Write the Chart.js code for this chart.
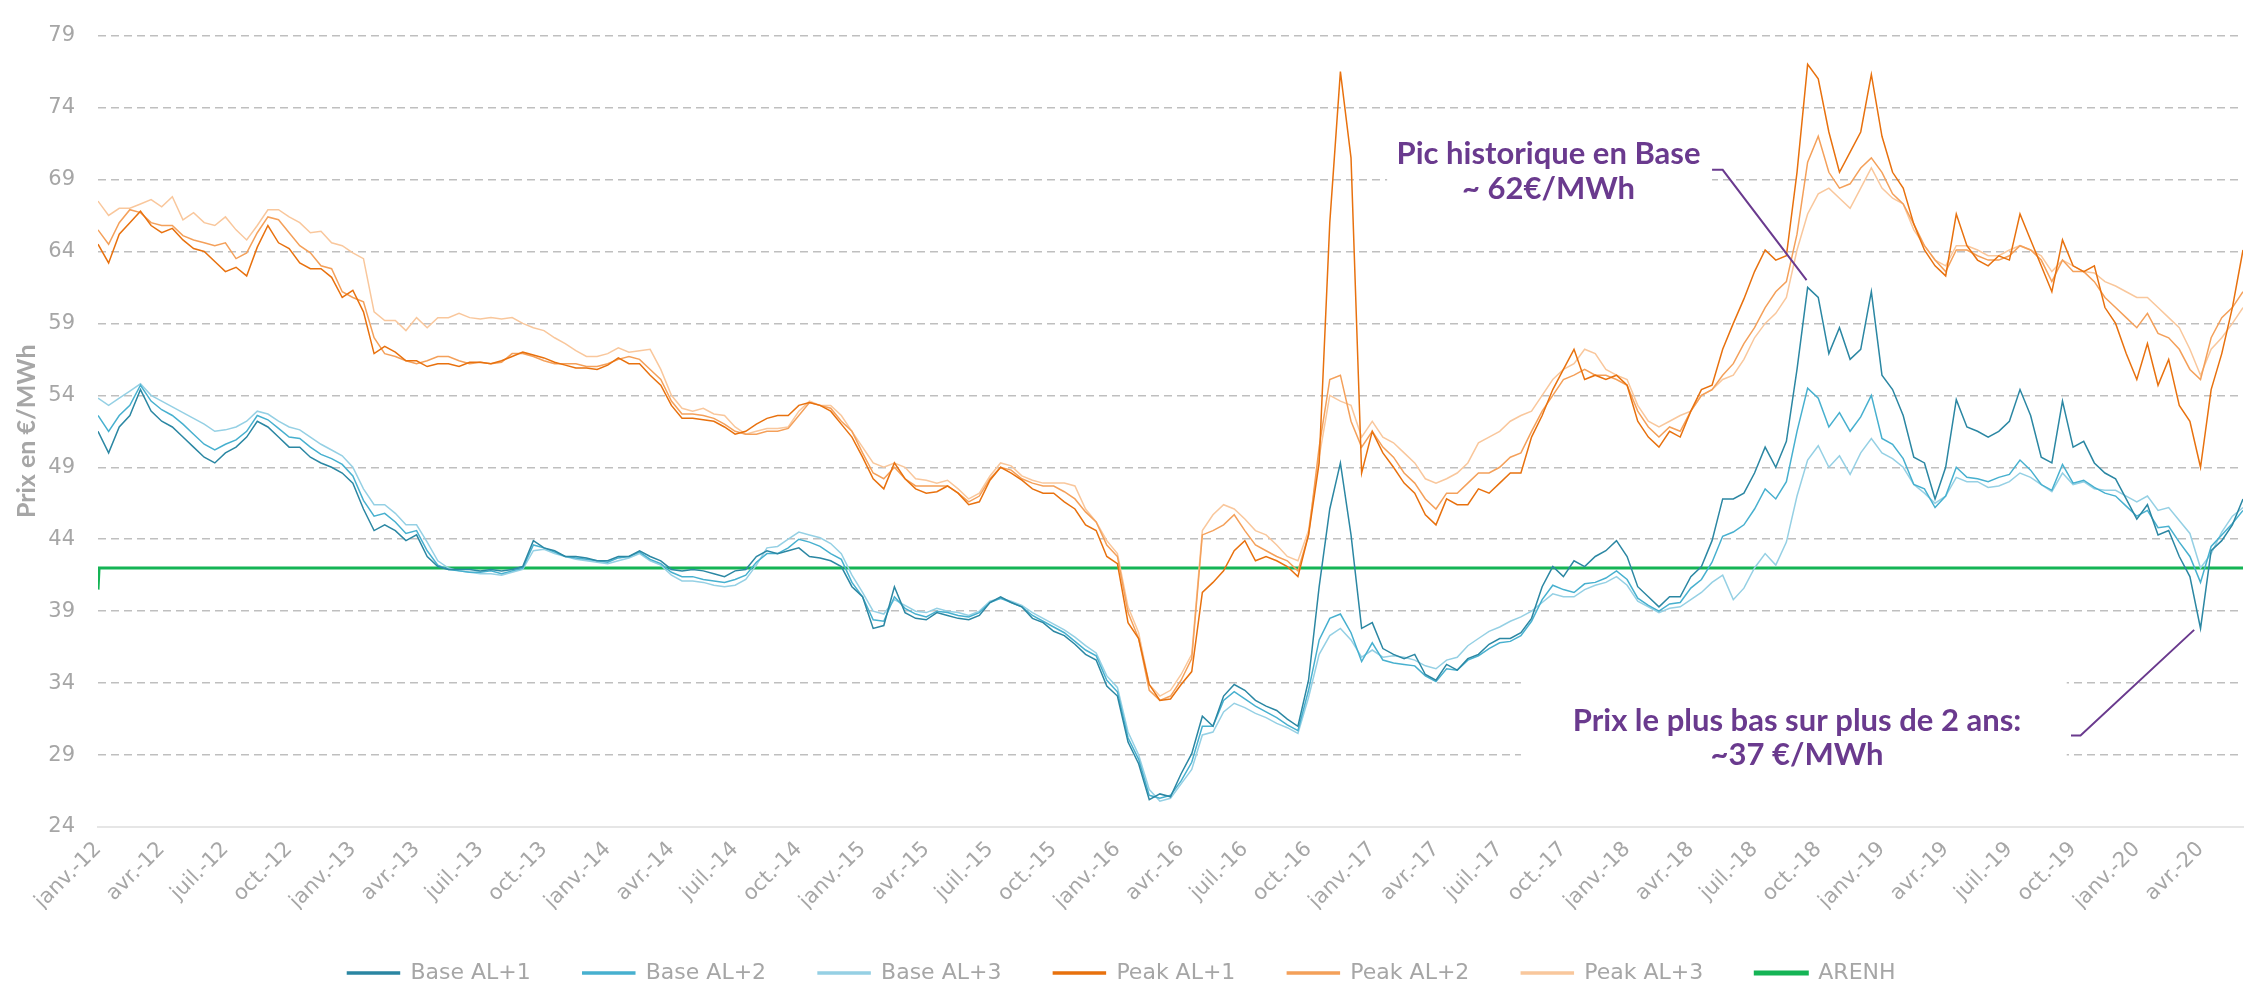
<!DOCTYPE html>
<html lang="fr">

<head>
    <meta charset="UTF-8">
    <title>Prix Base / Peak et ARENH</title>
    <style>
        html,
        body {
            margin: 0;
            padding: 0;
            background: #ffffff;
        }

        canvas {
            display: block;
        }
    </style>
</head>

<body>

    <canvas id="myChart" width="2257" height="994"></canvas>

    <script src="https://cdn.jsdelivr.net/npm/chart.js"></script>

    <script>
        // un point tous les demi-mois, à partir de janv. 2012
        const tickLabels = [
            'janv.-12', 'avr.-12', 'juil.-12', 'oct.-12',
            'janv.-13', 'avr.-13', 'juil.-13', 'oct.-13',
            'janv.-14', 'avr.-14', 'juil.-14', 'oct.-14',
            'janv.-15', 'avr.-15', 'juil.-15', 'oct.-15',
            'janv.-16', 'avr.-16', 'juil.-16', 'oct.-16',
            'janv.-17', 'avr.-17', 'juil.-17', 'oct.-17',
            'janv.-18', 'avr.-18', 'juil.-18', 'oct.-18',
            'janv.-19', 'avr.-19', 'juil.-19', 'oct.-19',
            'janv.-20', 'avr.-20'
        ];

        const baseAL1 = [
            51.5, 50.0, 51.8, 52.6, 54.4, 52.9, 52.2, 51.8, 51.1, 50.4,
            49.7, 49.3, 50.0, 50.4, 51.1, 52.2, 51.8, 51.1, 50.4, 50.4,
            49.7, 49.3, 49.0, 48.6, 47.9, 46.1, 44.6, 45.0, 44.6, 43.9,
            44.3, 42.8, 42.1, 41.9, 41.9, 41.9, 41.8, 41.9, 41.8, 41.9,
            42.1, 43.9, 43.4, 43.2, 42.8, 42.8, 42.7, 42.5, 42.5, 42.8,
            42.8, 43.2, 42.8, 42.5, 41.9, 41.8, 41.9, 41.8, 41.6, 41.4,
            41.8, 41.9, 42.8, 43.2, 43.0, 43.2, 43.4, 42.8, 42.7, 42.5,
            42.1, 40.7, 40.0, 37.8, 38.0, 40.7, 38.9, 38.5, 38.4, 38.9,
            38.7, 38.5, 38.4, 38.7, 39.6, 40.0, 39.6, 39.3, 38.5, 38.2,
            37.6, 37.3, 36.7, 36.0, 35.6, 33.8, 33.1, 29.9, 28.4, 25.9,
            26.3, 26.1, 27.7, 29.1, 31.7, 31.0, 33.1, 33.9, 33.5, 32.8,
            32.4, 32.1, 31.5, 31.0, 34.2, 40.7, 46.1, 49.3, 44.3, 37.8,
            38.2, 36.4, 36.0, 35.7, 36.0, 34.6, 34.2, 35.3, 34.9, 35.7,
            36.0, 36.7, 37.1, 37.1, 37.5, 38.5, 40.7, 42.1, 41.4, 42.5,
            42.1, 42.8, 43.2, 43.9, 42.8, 40.7, 40.0, 39.3, 40.0, 40.0,
            41.4, 42.1, 43.9, 46.8, 46.8, 47.2, 48.6, 50.4, 49.0, 50.8,
            55.8, 61.5, 60.8, 56.9, 58.7, 56.5, 57.2, 61.2, 55.4, 54.4,
            52.6, 49.7, 49.3, 46.8, 49.0, 53.7, 51.8, 51.5, 51.1, 51.5,
            52.2, 54.4, 52.6, 49.7, 49.3, 53.6, 50.4, 50.8, 49.3, 48.6,
            48.2, 46.8, 45.4, 46.4, 44.3, 44.6, 42.8, 41.4, 37.8, 43.2,
            43.9, 45.0, 46.8
        ];

        const baseAL2 = [
            52.6, 51.5, 52.6, 53.3, 54.7, 53.6, 53.0, 52.6, 52.0, 51.3,
            50.6, 50.2, 50.6, 50.9, 51.5, 52.6, 52.3, 51.7, 51.1, 51.0,
            50.4, 49.9, 49.6, 49.2, 48.4, 46.7, 45.6, 45.8, 45.2, 44.4,
            44.6, 43.2, 42.2, 41.9, 41.8, 41.7, 41.7, 41.8, 41.6, 41.8,
            42.0, 43.6, 43.4, 43.1, 42.8, 42.7, 42.6, 42.5, 42.4, 42.7,
            42.8, 43.1, 42.6, 42.3, 41.7, 41.4, 41.4, 41.2, 41.1, 41.0,
            41.2, 41.5, 42.4, 43.0, 43.0, 43.4, 44.0, 43.8, 43.5, 43.0,
            42.6, 41.0, 40.0, 38.4, 38.3, 40.0, 39.2, 38.8, 38.6, 39.0,
            38.9, 38.7, 38.6, 38.9, 39.6, 39.9, 39.6, 39.3, 38.7, 38.3,
            37.9, 37.5, 36.9, 36.3, 35.9, 34.2, 33.4, 30.2, 28.7, 26.2,
            26.0, 26.2, 27.2, 28.5, 31.0, 31.0, 32.8, 33.4, 32.9, 32.4,
            32.0, 31.6, 31.1, 30.7, 33.5, 37.0, 38.5, 38.8, 37.5, 35.5,
            36.8, 35.6, 35.4, 35.3, 35.2, 34.5, 34.1, 35.0, 34.9, 35.6,
            35.9, 36.4, 36.8, 36.9, 37.3, 38.3, 39.8, 40.8, 40.5, 40.3,
            40.9, 41.0, 41.3, 41.8, 41.2, 39.9, 39.4, 39.0, 39.5, 39.6,
            40.6, 41.2, 42.4, 44.2, 44.5, 45.0, 46.1, 47.5, 46.8, 48.0,
            51.5, 54.5, 53.8, 51.8, 52.8, 51.5, 52.5, 54.0, 51.0, 50.6,
            49.6, 47.8, 47.5, 46.2, 47.0, 49.0, 48.3, 48.2, 48.0, 48.3,
            48.5, 49.5, 48.8, 47.8, 47.4, 49.2, 47.9, 48.1, 47.6, 47.2,
            47.0, 46.3, 45.6, 46.0, 44.8, 44.9, 43.8, 42.8, 41.0, 43.5,
            44.3, 45.1, 46.0
        ];

        const baseAL3 = [
            53.8, 53.3, 53.8, 54.3, 54.8, 54.0, 53.6, 53.2, 52.8, 52.4,
            52.0, 51.5, 51.6, 51.8, 52.2, 52.9, 52.7, 52.2, 51.8, 51.6,
            51.1, 50.6, 50.2, 49.8, 49.0, 47.5, 46.4, 46.4, 45.8, 45.0,
            45.0, 43.8, 42.5, 42.0, 41.8, 41.7, 41.6, 41.6, 41.5, 41.7,
            41.9, 43.2, 43.3, 43.0, 42.8, 42.6, 42.5, 42.4, 42.3, 42.5,
            42.7, 43.0, 42.5, 42.2, 41.5, 41.1, 41.1, 41.0, 40.8, 40.7,
            40.8, 41.2, 42.2, 43.4, 43.5, 44.0, 44.5, 44.3, 44.1, 43.7,
            43.0, 41.5, 40.3, 39.0, 38.8, 39.8, 39.4, 39.0, 38.9, 39.2,
            39.0, 38.9, 38.7, 39.0, 39.7, 39.9, 39.7, 39.4, 38.9, 38.5,
            38.1, 37.7, 37.2, 36.6, 36.1, 34.5, 33.7, 30.6, 29.0, 26.6,
            25.8, 26.0, 27.0, 28.0, 30.4, 30.6, 32.0, 32.6, 32.3, 31.9,
            31.6, 31.2, 30.9, 30.5, 33.0, 36.0, 37.3, 37.8, 37.0, 35.8,
            36.3, 35.8, 35.9, 35.8, 35.6, 35.2, 35.0, 35.6, 35.8, 36.6,
            37.1, 37.6, 37.9, 38.3, 38.6, 39.0, 39.6, 40.2, 40.0, 40.0,
            40.5, 40.8, 41.0, 41.4, 40.8, 39.7, 39.3, 38.9, 39.2, 39.3,
            39.8, 40.3, 41.0, 41.5, 39.8, 40.6, 42.0, 43.0, 42.2, 43.8,
            47.0, 49.5, 50.5, 49.0, 49.8, 48.5, 50.0, 51.0, 50.0, 49.6,
            49.0, 47.8, 47.2, 46.5, 47.0, 48.3, 48.0, 48.0, 47.6, 47.7,
            48.0, 48.6, 48.3, 47.8, 47.3, 48.6, 47.8, 48.0, 47.5, 47.4,
            47.4, 47.0, 46.6, 47.0, 46.0, 46.2, 45.3, 44.4, 42.0, 43.0,
            44.5, 45.6, 46.2
        ];

        const peakAL1 = [
            64.5, 63.2, 65.2, 66.0, 66.8, 65.8, 65.3, 65.6, 64.8, 64.2,
            64.0, 63.3, 62.6, 62.9, 62.3, 64.3, 65.8, 64.6, 64.2, 63.2,
            62.8, 62.8, 62.2, 60.8, 61.3, 59.8, 56.9, 57.4, 57.0, 56.4,
            56.4, 56.0, 56.2, 56.2, 56.0, 56.3, 56.3, 56.2, 56.4, 56.7,
            57.0, 56.8, 56.6, 56.3, 56.1, 55.9, 55.9, 55.8, 56.1, 56.6,
            56.2, 56.2, 55.4, 54.7, 53.3, 52.4, 52.4, 52.3, 52.2, 51.8,
            51.3, 51.5, 52.0, 52.4, 52.6, 52.6, 53.3, 53.5, 53.3, 52.9,
            52.0, 51.1, 49.7, 48.2, 47.5, 49.3, 48.2, 47.5, 47.2, 47.3,
            47.7, 47.2, 46.4, 46.6, 48.1, 49.0, 48.6, 48.1, 47.5, 47.2,
            47.2, 46.6, 46.1, 45.0, 44.6, 42.8, 42.3, 38.2, 37.1, 33.9,
            32.8, 32.9, 33.9, 34.8, 40.3, 41.0, 41.8, 43.2, 43.9, 42.5,
            42.8, 42.5, 42.1, 41.4, 44.3, 49.3, 66.0, 76.5, 70.5, 48.6,
            51.5, 50.0, 49.0, 47.9, 47.2, 45.7, 45.0, 46.8, 46.4, 46.4,
            47.5, 47.2, 47.9, 48.6, 48.6, 51.1, 52.6, 54.4, 55.8, 57.2,
            55.1, 55.4, 55.1, 55.4, 54.7, 52.2, 51.1, 50.4, 51.5, 51.1,
            52.9, 54.4, 54.7, 57.2, 59.0, 60.7, 62.6, 64.1, 63.4, 63.7,
            69.5, 77.0, 76.0, 72.3, 69.5, 70.9, 72.3, 76.3, 72.0, 69.5,
            68.4, 65.9, 64.1, 63.0, 62.3, 66.6, 64.4, 63.4, 63.0, 63.7,
            63.4, 66.6, 64.8, 63.0, 61.2, 64.8, 63.0, 62.6, 63.0, 60.1,
            59.0, 56.9, 55.1, 57.6, 54.7, 56.5, 53.3, 52.2, 49.0, 54.4,
            56.9, 60.1, 64.1
        ];

        const peakAL2 = [
            65.5, 64.5, 66.0, 66.9, 66.7, 66.0, 65.8, 65.8, 65.1, 64.8,
            64.6, 64.4, 64.6, 63.5, 63.9, 65.3, 66.4, 66.2, 65.3, 64.4,
            63.9, 63.0, 62.8, 61.2, 60.8, 60.5, 58.0, 56.9, 56.7, 56.4,
            56.2, 56.4, 56.7, 56.7, 56.4, 56.2, 56.3, 56.2, 56.3, 56.9,
            56.9, 56.7, 56.4, 56.2, 56.2, 56.2, 56.0, 56.0, 56.2, 56.5,
            56.7, 56.5, 55.8, 55.1, 53.6, 52.7, 52.7, 52.6, 52.4, 52.0,
            51.5, 51.3, 51.3, 51.5, 51.5, 51.7, 52.6, 53.5, 53.3, 53.1,
            52.2, 51.5, 50.0, 48.6, 48.2, 49.0, 48.2, 47.7, 47.7, 47.7,
            47.7, 47.2, 46.6, 47.0, 48.2, 49.0, 48.8, 48.2, 47.9, 47.7,
            47.7, 47.3, 46.8, 45.9, 45.2, 43.6, 42.8, 38.9, 37.1, 33.5,
            32.8, 33.1, 34.2, 35.7, 44.3, 44.6, 45.0, 45.7, 44.6, 43.6,
            43.2, 42.8, 42.5, 41.8, 44.3, 50.4, 55.1, 55.4, 52.2, 50.4,
            51.5, 50.4, 49.7, 48.6, 47.9, 46.8, 46.1, 47.2, 47.2, 47.9,
            48.6, 48.6, 49.0, 49.7, 50.0, 51.5, 52.9, 54.0, 55.1, 55.4,
            55.8, 55.4, 55.4, 55.1, 54.7, 52.9, 51.8, 51.1, 51.8, 51.5,
            52.9, 54.0, 54.4, 55.4, 56.2, 57.6, 58.7, 60.1, 61.2, 61.9,
            65.2, 70.2, 72.0, 69.5, 68.4, 68.7, 69.8, 70.5, 69.5, 68.0,
            67.3, 65.9, 64.4, 63.4, 62.6, 64.1, 64.1, 63.7, 63.4, 63.4,
            63.7, 64.4, 64.1, 63.4, 61.9, 63.4, 62.6, 62.6, 61.9, 60.8,
            60.1, 59.4, 58.7, 59.7, 58.3, 58.0, 57.2, 55.8, 55.1, 58.0,
            59.4, 60.1, 61.2
        ];

        const peakAL3 = [
            67.5, 66.5, 67.0, 67.0, 67.3, 67.6, 67.1, 67.8, 66.2, 66.7,
            66.0, 65.8, 66.4, 65.5, 64.8, 65.8, 66.9, 66.9, 66.4, 66.0,
            65.3, 65.4, 64.6, 64.4, 63.9, 63.5, 59.8, 59.2, 59.2, 58.5,
            59.4, 58.7, 59.4, 59.4, 59.7, 59.4, 59.3, 59.4, 59.3, 59.4,
            59.0, 58.7, 58.5, 58.0, 57.6, 57.1, 56.7, 56.7, 56.9, 57.3,
            57.0, 57.1, 57.2, 55.8, 54.0, 53.1, 52.9, 53.1, 52.7, 52.6,
            51.8, 51.3, 51.5, 51.7, 51.7, 51.8, 52.9, 53.6, 53.3, 53.3,
            52.6, 51.5, 50.4, 49.3, 49.0, 49.3, 49.0, 48.2, 48.1, 47.9,
            48.1, 47.5, 46.8, 47.2, 48.4, 49.3, 49.1, 48.4, 48.1, 47.9,
            47.9, 47.9, 47.7, 46.1, 45.2, 43.9, 43.0, 39.3, 37.5, 33.9,
            33.1, 33.5, 34.6, 36.0, 44.6, 45.7, 46.4, 46.1, 45.4, 44.6,
            44.3, 43.6, 42.8, 42.5, 44.6, 49.7, 54.0, 53.6, 53.3, 51.1,
            52.2, 51.1, 50.7, 50.0, 49.3, 48.2, 47.9, 48.2, 48.6, 49.3,
            50.7, 51.1, 51.5, 52.2, 52.6, 52.9, 54.0, 55.1, 55.8, 56.2,
            57.2, 56.9, 55.8, 55.4, 55.1, 53.3, 52.2, 51.8, 52.2, 52.6,
            52.9, 54.0, 54.4, 55.1, 55.4, 56.5, 58.0, 59.0, 59.7, 60.8,
            64.1, 66.6, 68.0, 68.4, 67.7, 67.0, 68.4, 69.8, 68.4, 67.7,
            67.3, 65.5, 64.4, 63.4, 63.0, 64.4, 64.4, 64.1, 63.7, 63.7,
            64.1, 64.4, 64.1, 63.7, 62.6, 63.4, 63.0, 62.6, 62.5, 61.9,
            61.6, 61.2, 60.8, 60.8, 60.1, 59.4, 58.7, 57.2, 55.4, 57.2,
            58.0, 59.0, 60.1
        ];

        // ARENH : 42 €/MWh sur toute la période
        const arenhMonths = [0, 0.05, 101];
        const arenhValues = [40.5, 42, 42];

        const seriesNames = ['Base AL+1', 'Base AL+2', 'Base AL+3', 'Peak AL+1', 'Peak AL+2', 'Peak AL+3'];
        const seriesColors = ['#2B87A3', '#47B0CF', '#95D0E4', '#E8710E', '#F4A05A', '#F9C79C'];
        const seriesValues = [baseAL1, baseAL2, baseAL3, peakAL1, peakAL2, peakAL3];

        // annotations (en coordonnées des axes : mois depuis janv.-12, €/MWh)
        const notes = [
            {
                lines: ['Pic historique en Base', '~ 62€/MWh'],
                textX: 68.3, textY: [70.76, 68.31],
                box: [60.7, 76.0, 72.0, 67.5],
                pointer: [[76.0, 69.67], [76.5, 69.67], [80.45, 62.0]]
            },
            {
                lines: ['Prix le plus bas sur plus de 2 ans:', '~37 €/MWh'],
                textX: 80.0, textY: [31.38, 29.0],
                box: [67.0, 92.7, 34.8, 27.5],
                pointer: [[92.9, 30.36], [93.35, 30.36], [98.7, 37.7]]
            }
        ];

        const toPoints = (values) => values.map((v, i) => ({ x: i / 2, y: v }));

        const datasets = seriesValues.map((values, i) => ({
            label: seriesNames[i],
            data: toPoints(values),
            borderColor: seriesColors[i],
            backgroundColor: seriesColors[i],
            borderWidth: 1.5,
            pointRadius: 0,
            tension: 0
        }));

        datasets.push({
            label: 'ARENH',
            data: arenhMonths.map((m, i) => ({ x: m, y: arenhValues[i] })),
            borderColor: '#15B455',
            backgroundColor: '#15B455',
            borderWidth: 3,
            pointRadius: 0,
            tension: 0
        });

        const notePlugin = {
            id: 'notes',
            beforeDatasetsDraw(chart) {
                const { ctx, scales: { x, y } } = chart;
                ctx.save();
                ctx.fillStyle = '#ffffff';
                notes.forEach(n => {
                    const l = x.getPixelForValue(n.box[0]);
                    const r = x.getPixelForValue(n.box[1]);
                    const t = y.getPixelForValue(n.box[2]);
                    const b = y.getPixelForValue(n.box[3]);
                    ctx.fillRect(l, t, r - l, b - t);
                });
                ctx.restore();
            },
            afterDatasetsDraw(chart) {
                const { ctx, scales: { x, y } } = chart;
                ctx.save();
                ctx.strokeStyle = '#6A3A8E';
                ctx.lineWidth = 2;
                ctx.fillStyle = '#6A3A8E';
                ctx.font = 'bold 31px Lato';
                ctx.textAlign = 'center';
                ctx.textBaseline = 'middle';
                notes.forEach(n => {
                    ctx.beginPath();
                    n.pointer.forEach((p, i) => {
                        const px = x.getPixelForValue(p[0]);
                        const py = y.getPixelForValue(p[1]);
                        if (i === 0) ctx.moveTo(px, py); else ctx.lineTo(px, py);
                    });
                    ctx.stroke();
                    n.lines.forEach((txt, i) => {
                        ctx.fillText(txt, x.getPixelForValue(n.textX), y.getPixelForValue(n.textY[i]));
                    });
                });
                ctx.restore();
            }
        };

        Chart.defaults.font.family = 'DejaVu Sans';
        Chart.defaults.color = '#A6A6A6';

        const ctx = document.getElementById('myChart').getContext('2d');
        const myChart = new Chart(ctx, {
            type: 'line',
            data: { datasets: datasets },
            options: {
                responsive: false,
                animation: false,
                layout: {
                    padding: { top: 19, right: 14, left: 0, bottom: 0 }
                },
                plugins: {
                    legend: {
                        position: 'bottom',
                        labels: {
                            boxWidth: 52,
                            boxHeight: 2,
                            padding: 52,
                            color: '#A6A6A6',
                            font: { size: 22 }
                        }
                    },
                    tooltip: { enabled: false }
                },
                scales: {
                    x: {
                        type: 'linear',
                        min: 0,
                        max: 101,
                        grid: { display: false, drawTicks: false },
                        border: { display: true, color: '#E6E6E6', width: 2 },
                        ticks: {
                            stepSize: 3,
                            includeBounds: false,
                            autoSkip: false,
                            minRotation: 45,
                            maxRotation: 45,
                            padding: 10,
                            color: '#A6A6A6',
                            font: { size: 21 },
                            callback: (value) => tickLabels[Math.round(value / 3)]
                        },
                        afterFit: (scale) => { scale.height = 83; }
                    },
                    y: {
                        min: 24,
                        max: 79,
                        grid: {
                            drawTicks: false,
                            lineWidth: 1.5,
                            color: (c) => c.tick.value === 24 ? 'rgba(0,0,0,0)' : '#BFBFBF'
                        },
                        border: { display: false, dash: [8, 5] },
                        ticks: {
                            stepSize: 5,
                            padding: 23,
                            color: '#A6A6A6',
                            font: { size: 21 }
                        },
                        title: {
                            display: true,
                            text: 'Prix en €/MWh',
                            color: '#A6A6A6',
                            font: { family: 'Lato', size: 25, weight: 'bold' },
                            padding: { top: 12, bottom: 0 }
                        },
                        afterFit: (scale) => { scale.width = 98; }
                    }
                }
            },
            plugins: [notePlugin]
        });
    </script>

</body>

</html>
